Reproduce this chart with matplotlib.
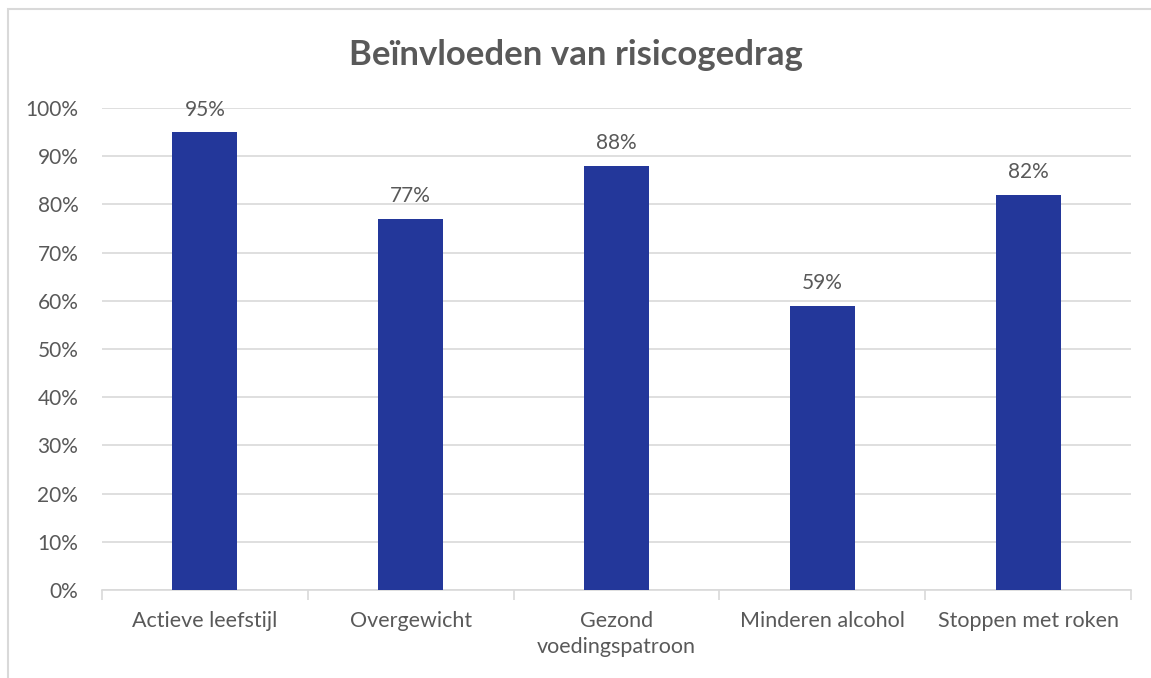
import matplotlib.pyplot as plt
from matplotlib.patches import Rectangle
from matplotlib.ticker import PercentFormatter

categories = ['Actieve leefstijl', 'Overgewicht', 'Gezond\nvoedingspatroon',
              'Minderen alcohol', 'Stoppen met roken']
values = [95, 77, 88, 59, 82]

bar_color = '#23379a'
text_color = '#595959'
grid_color = '#d9d9d9'

plt.rcParams['font.family'] = ['Lato', 'DejaVu Sans']

fig = plt.figure(figsize=(11.51, 6.78), dpi=100)
ax = fig.add_axes([0.0886, 0.1298, 0.8940, 0.7109])

# outer chart border (only top/left edges fall inside the canvas)
fig.patches.append(Rectangle((8 / 1151, -0.01), 1.2, (678 - 9) / 678 + 0.01,
                             transform=fig.transFigure, fill=False,
                             edgecolor=grid_color, linewidth=1.5))

x = range(len(categories))
ax.bar(x, values, width=0.316, color=bar_color, zorder=3)

for i, v in enumerate(values):
    ax.text(i, v + 2.6, f'{v}%', ha='center', va='bottom',
            fontsize=15, color=text_color, zorder=4)

ax.set_xlim(-0.5, len(categories) - 0.5)
ax.set_ylim(0, 100)
ax.set_yticks(range(0, 101, 10))
ax.yaxis.set_major_formatter(PercentFormatter(decimals=0))
ax.grid(axis='y', color=grid_color, linewidth=1.2, zorder=0)

ax.set_xticks(x)
ax.set_xticklabels(categories, fontsize=15.5, color=text_color, linespacing=1.4)
ax.set_xticks([i - 0.5 for i in range(len(categories) + 1)], minor=True)
ax.tick_params(axis='x', which='major', length=0, pad=15)
ax.tick_params(axis='x', which='minor', length=7, color=grid_color, width=1.2)
ax.tick_params(axis='y', length=0, labelsize=15, labelcolor=text_color, pad=17)

for side in ['top', 'right', 'left']:
    ax.spines[side].set_visible(False)
ax.spines['bottom'].set_color(grid_color)
ax.spines['bottom'].set_linewidth(1.2)

fig.text(0.5, 1 - 55 / 678, 'Beïnvloeden van risicogedrag', ha='center',
         va='center', fontsize=25, fontweight='bold', color=text_color)

fig.savefig('out.png', dpi=100)
